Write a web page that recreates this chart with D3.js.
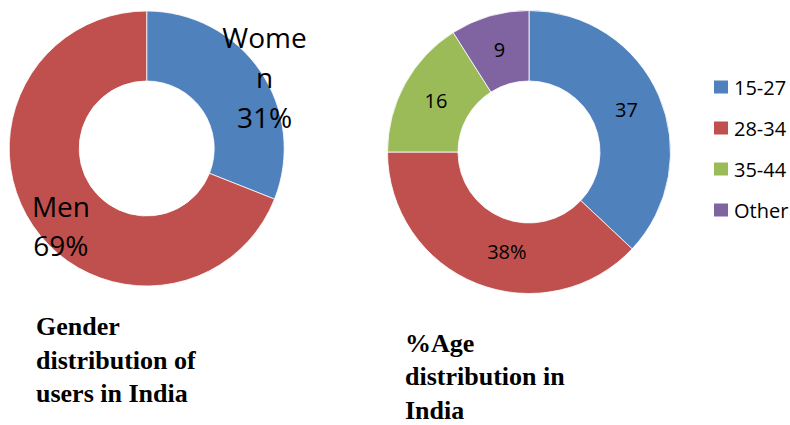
<!DOCTYPE html>
<html>
<head>
<meta charset="utf-8">
<script src="https://cdn.jsdelivr.net/npm/d3@7"></script>
<style>
  html, body { margin: 0; padding: 0; background: #fff; }
  svg { display: block; }
</style>
</head>
<body>
<svg id="chart" width="790" height="425"></svg>
<script>
// ---- data ----
const genderCategories = ["Women", "Men"];
const genderValues = [31, 69];
const genderLabelLines = [["Wome", "n"], ["Men"]];   // as wrapped in the original
const genderTitle = ["Gender", "distribution of", "users in India"];

const ageCategories = ["15-27", "28-34", "35-44", "Other"];
const ageValues = [37, 38, 16, 9];
const ageLabelText = ["37", "38%", "16", "9"];
const ageTitle = ["%Age", "distribution in", "India"];

const colors = ["#4F81BD", "#C0504D", "#9BBB59", "#8064A2"];

// ---- drawing ----
const svg = d3.select("#chart");
const pie = d3.pie().sort(null).value(d => d);
const color = d3.scaleOrdinal().domain(ageCategories).range(colors);

// Left donut: gender
{
  const cx = 146.7, cy = 148.5, rOuter = 137.5, rInner = 67.5;
  const g = svg.append("g").attr("transform", `translate(${cx},${cy})`);
  const arc = d3.arc().innerRadius(rInner).outerRadius(rOuter);
  const arcs = pie(genderValues);
  g.selectAll("path").data(arcs).enter().append("path")
    .attr("d", arc)
    .attr("fill", (d, i) => colors[i])
    .attr("stroke", "#fff").attr("stroke-width", 0.8);

  // manually placed labels (offset from the segment centroid, as in the source)
  const offsets = [[33, -13], [-1, 21]];
  const lhs = [40, 38.5];
  arcs.forEach((a, i) => {
    const [x, y] = arc.centroid(a);
    const lh = lhs[i];
    const lines = genderLabelLines[i].concat([genderValues[i] + "%"]);
    const total = lines.length * lh;
    const t = g.append("text")
      .attr("text-anchor", "middle")
      .attr("font-family", "'Open Sans', sans-serif")
      .attr("font-size", 28)
      .attr("fill", "#000");
    lines.forEach((ln, j) => {
      t.append("tspan")
        .attr("x", x + offsets[i][0])
        .attr("y", y + offsets[i][1] - total / 2 + lh * (j + 1) - 10)
        .text(ln);
    });
  });
}

// Right donut: age
{
  const cx = 529, cy = 152, rOuter = 141.5, rInner = 71;
  const g = svg.append("g").attr("transform", `translate(${cx},${cy})`);
  const arc = d3.arc().innerRadius(rInner).outerRadius(rOuter);
  const arcs = pie(ageValues);
  g.selectAll("path").data(arcs).enter().append("path")
    .attr("d", arc)
    .attr("fill", (d, i) => color(ageCategories[i]))
    .attr("stroke", "#fff").attr("stroke-width", 0.8);

  const offsets = [[0, 0], [17, 1], [0, 0], [0, 0]];
  g.selectAll("text.lbl").data(arcs).enter().append("text")
    .attr("class", "lbl")
    .attr("text-anchor", "middle")
    .attr("font-family", "'Open Sans', sans-serif")
    .attr("font-size", 20)
    .attr("fill", "#000")
    .attr("x", (d, i) => arc.centroid(d)[0] + offsets[i][0])
    .attr("y", (d, i) => arc.centroid(d)[1] + offsets[i][1] + 7)
    .text((d, i) => ageLabelText[i]);

  // legend
  const legendY = d3.scalePoint().domain(ageCategories).range([87, 210]);
  const lg = svg.append("g");
  ageCategories.forEach(c => {
    const y = legendY(c);
    lg.append("rect")
      .attr("x", 714).attr("y", y - 6.5)
      .attr("width", 14).attr("height", 13)
      .attr("fill", color(c));
    lg.append("text")
      .attr("x", 734).attr("y", y + 7.5)
      .attr("font-family", "'Open Sans', sans-serif")
      .attr("font-size", 20)
      .attr("fill", "#000")
      .text(c);
  });
}

// Titles
function title(lines, x, y0, lh) {
  const t = svg.append("text")
    .attr("font-family", "'Liberation Serif', 'Times New Roman', serif")
    .attr("font-weight", "bold")
    .attr("font-size", 26)
    .attr("fill", "#000");
  lines.forEach((ln, j) => {
    t.append("tspan").attr("x", x).attr("y", y0 + j * lh).text(ln);
  });
}
title(genderTitle, 36, 335, 33.5);
title(ageTitle, 405, 352, 33.3);
</script>
</body>
</html>
